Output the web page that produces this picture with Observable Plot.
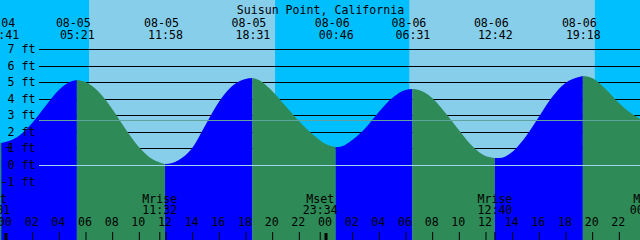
<!DOCTYPE html>
<html><head><meta charset="utf-8">
<script src="https://cdn.jsdelivr.net/npm/d3@7"></script>
<script src="https://cdn.jsdelivr.net/npm/@observablehq/plot@0.6"></script>
<style>
body{margin:0;background:#fff}
#chart{width:640px;height:240px;overflow:hidden}
#chart svg{display:block}
</style>
</head><body><div id="chart"></div>
<script>
// ---- data ----
const title = "Suisun Point, California";
const eventDates   = ["08-04","08-05","08-05","08-05","08-06","08-06","08-06","08-06"];
const eventClock   = ["23:41","05:21","11:58","18:31","00:46","06:31","12:42","19:18"];
const eventHeights = [1.35, 5.13, 0.08, 5.25, 1.10, 4.60, 0.42, 5.35];

const moonNames = ["Mset","Mrise","Mset","Mrise","Mset"];
const moonDates = ["08-04","08-05","08-05","08-06","08-07"];
const moonClock = ["23:01","11:32","23:34","12:40","00:05"];

const sunDates   = ["08-05","08-06"];
const sunriseClock = ["06:16","06:17"];
const sunsetClock  = ["20:13","20:12"];

// tide readings (hours after 08-05 00:00, feet)
const readingHours = [-0.5,0,1,2,3,4,5,6,7,8,9,10,11,12,13,14,15,16,17,18,19,20,21,22,23,24,
  25,26,27,28,29,30,31,32,33,34,35,36,37,38,39,40,41,42,43,44,45,46,47,47.6];
const readingHeights = [1.37,1.40,1.74,2.52,3.55,4.52,5.08,5.01,4.39,3.38,2.20,1.10,0.34,0.08,0.32,1.05,2.40,3.80,4.75,5.19,
  5.12,4.45,3.55,2.65,1.85,1.25,1.11,1.48,2.25,3.19,4.03,4.53,4.54,4.03,3.14,2.10,1.15,0.57,0.45,0.80,
  1.70,2.92,4.10,4.95,5.33,5.22,4.60,3.75,3.05,2.75];

const ftLevels = [7,6,5,4,3,2,1,0,-1];
const ftLabels = ["7 ft","6 ft","5 ft","4 ft","3 ft","2 ft","1 ft","0 ft","-1 ft"];
const gridLevels = [1,2,3,4,5,6,7];
const datumLevel = 0;
const mslLevel = 2.72;

const tickHours  = [0,2,4,6,8,10,12,14,16,18,20,22,24,26,28,30,32,34,36,38,40,42,44,46];
const tickLabels = ["00","02","04","06","08","10","12","14","16","18","20","22",
                    "00","02","04","06","08","10","12","14","16","18","20","22"];

const xDomain = [-0.4125, 47.5875];

// ---- colors ----
const dayColor = "#87CEEB", nightColor = "#00BFFF";
const riseColor = "#0000FF", fallColor = "#2E8B57";
const datumColor = "#9ED6EE", mslColor = "#5FA3A0";

// ---- derived tables ----
const hoursOf = (date, clock) => {
  const day = Number(date.slice(3));
  const [hh, mm] = clock.split(":").map(Number);
  return (day - 5) * 24 + hh + mm / 60;
};
const eventHours = eventDates.map((d, i) => hoursOf(d, eventClock[i]));
const events = eventHours.map((t, i) => ({t, h: eventHeights[i], date: eventDates[i], clock: eventClock[i]}));
const isLow = eventHeights.map((h, i) => {
  const nb = i + 1 < eventHeights.length ? eventHeights[i + 1] : eventHeights[i - 1];
  return h < nb;
});
const segColor = (seg) => {
  if (seg < 0) return isLow[0] ? fallColor : riseColor;
  return isLow[seg] ? riseColor : fallColor;
};
const pts = readingHours.map((t, i) => ({t, h: readingHeights[i], ev: false}))
  .concat(events.map(e => ({t: e.t, h: e.h, ev: true})))
  .sort((a, b) => a.t - b.t);
const rows = [];
for (const p of pts) {
  const k = eventHours.filter(e => e <= p.t + 1e-9).length - 1;
  rows.push({t: p.t, h: p.h, seg: k, color: segColor(k)});
  if (p.ev) rows.push({t: p.t, h: p.h, seg: k - 1, color: segColor(k - 1)});
}
rows.sort((a, b) => a.seg - b.seg || a.t - b.t);

const days = sunDates.map((d, i) => ({rise: hoursOf(d, sunriseClock[i]), set: hoursOf(d, sunsetClock[i])}));
const moons = moonNames.map((n, i) => ({t: hoursOf(moonDates[i], moonClock[i]), name: n, clock: moonClock[i]}));
const ticks = tickHours.map((t, i) => ({t, label: tickLabels[i], midnight: t % 24 === 0}));
const ftRows = ftLevels.map((v, i) => ({v, label: ftLabels[i]}));

const font = "DejaVu Sans Mono";

const chart = Plot.plot({
  width: 640, height: 240, margin: 0,
  x: {domain: xDomain, range: [0, 640], axis: null},
  y: {domain: [0, 7], range: [165, 49], axis: null, round: true},
  color: {type: "identity"},
  style: {background: nightColor, fontFamily: font, fontSize: "11.6px", color: "black", overflow: "hidden"},
  marks: [
    Plot.rect(days, {x1: "rise", x2: "set", fill: dayColor}),
    Plot.ruleY(gridLevels, {stroke: "black", insetLeft: 39}),
    Plot.areaY(rows, {x: "t", y1: -4.7, y2: "h", z: "seg", fill: "color", curve: "monotone-x"}),
    Plot.ruleY([datumLevel], {stroke: datumColor, insetLeft: 39}),
    Plot.ruleY([mslLevel], {stroke: mslColor, insetLeft: 39}),
    Plot.text(ftRows, {y: "v", text: "label", frameAnchor: "left", dx: 35, textAnchor: "end", fill: "black"}),
    Plot.text(["+"], {text: d => d, frameAnchor: "top-left", dx: 5, dy: 143, fill: "black"}),
    Plot.text([title], {text: d => d, frameAnchor: "top", dy: 5.5, fill: "black"}),
    Plot.text(events, {x: "t", text: "date", frameAnchor: "top", dy: 18, dx: -4, fill: "black"}),
    Plot.text(events, {x: "t", text: "clock", frameAnchor: "top", dy: 29.8, fill: "black"}),
    Plot.text(moons, {x: "t", text: "name", frameAnchor: "bottom", dy: -37.8, fill: "black"}),
    Plot.text(moons, {x: "t", text: "clock", frameAnchor: "bottom", dy: -27, fill: "black"}),
    Plot.text(ticks, {x: "t", text: "label", frameAnchor: "bottom", dy: -14.2, dx: -1, fill: "black"}),
    Plot.ruleX(ticks.filter(d => !d.midnight), {x: "t", stroke: "black", insetTop: 232}),
    Plot.ruleX(ticks.filter(d => d.midnight), {x: "t", stroke: "black", strokeWidth: 3, insetTop: 233}),
    Plot.ruleX(moons, {x: "t", stroke: "black", insetTop: 232})
  ]
});
document.getElementById("chart").appendChild(chart);
</script>
</body></html>
